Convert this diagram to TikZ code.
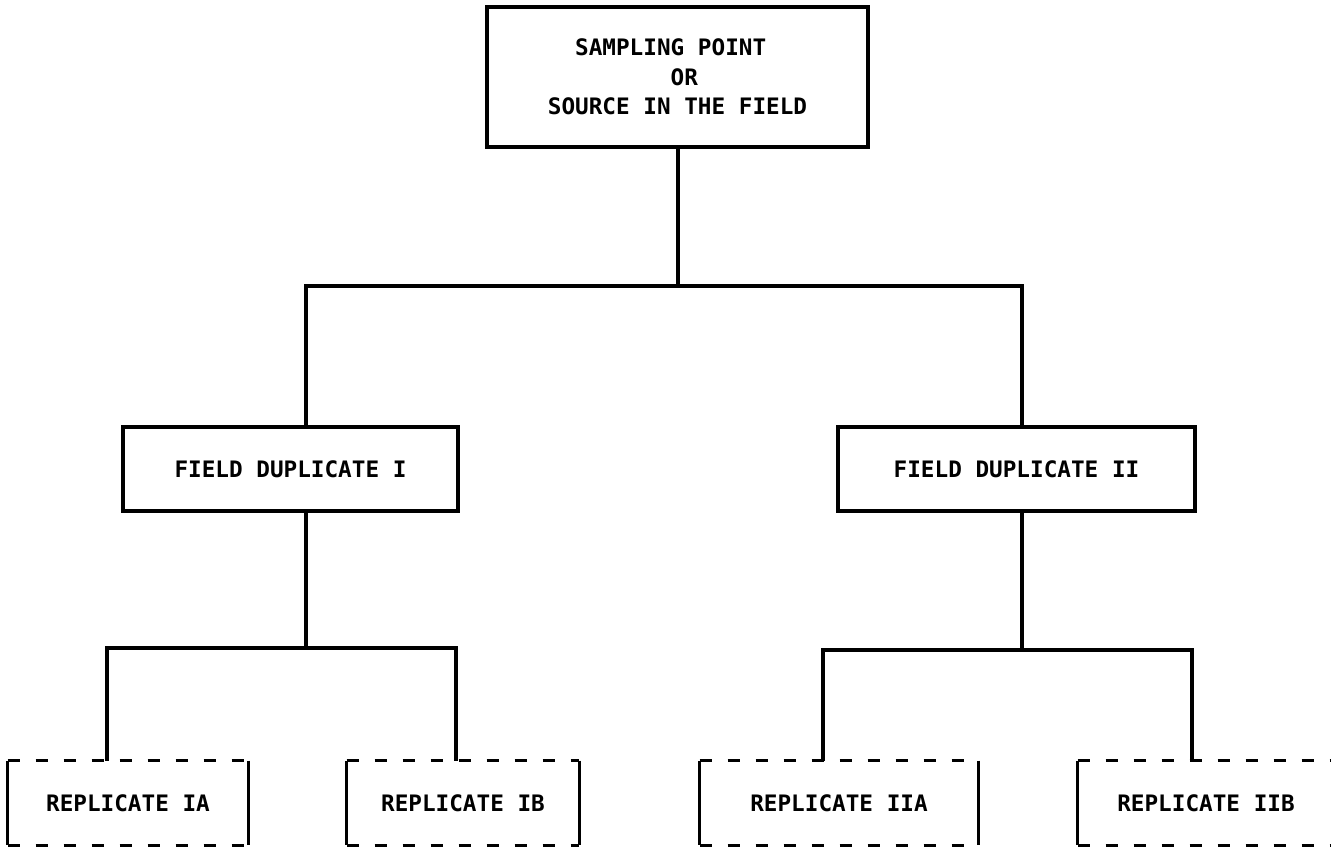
\documentclass[tikz,border=0pt]{standalone}
\usepackage{fontspec}
\newfontfamily\monofnt{DejaVu Sans Mono}
\newdimen\pxu \pxu=0.75pt
\tikzset{
  diag/.style={x=0.75pt, y=-0.75pt},
  txt/.style={font=\monofnt\bfseries\fontsize{17}{22}\selectfont, inner sep=0pt},
  solidbox/.style={txt, draw, line width=2.5pt},
  repbox/.style={txt},
  link/.style={line width=2.5pt},
  rside/.style={line width=2.5pt},
  rdash/.style={line width=2.5pt, dash pattern=on 9pt off 12pt}
}
\begin{document}
\begin{tikzpicture}[diag]
\useasboundingbox (0,0) rectangle (1332,847);
\fill[white] (0,0) rectangle (1332,847);

% boxes
\node[solidbox, minimum width=381\pxu, minimum height=140\pxu, align=left] (top) at (677.5,77)
  {\phantom{SO}SAMPLING POINT\\\phantom{SOURCE IN}OR\\SOURCE IN THE FIELD};
\node[solidbox, minimum width=335\pxu, minimum height=84\pxu] (fd1) at (290.5,469) {FIELD DUPLICATE I};
\node[solidbox, minimum width=357\pxu, minimum height=84\pxu] (fd2) at (1016.5,469) {FIELD DUPLICATE II};

\node[repbox, minimum width=240\pxu, minimum height=84\pxu] (ia) at (128,803) {REPLICATE IA};
\node[repbox, minimum width=232\pxu, minimum height=84\pxu] (ib) at (463,803) {REPLICATE IB};
\node[repbox, minimum width=278\pxu, minimum height=84\pxu] (iia) at (839,803) {REPLICATE IIA};
\node[repbox, minimum width=256\pxu, minimum height=84\pxu] (iib) at (1206,803) {REPLICATE IIB};

% replicate box outlines: solid sides, dashed top and bottom
\foreach \b in {ia,ib,iia}{
  \draw[rside] (\b.north west) -- (\b.south west);
  \draw[rside] (\b.north east) -- (\b.south east);
  \draw[rdash] (\b.north west) -- (\b.north east);
  \draw[rdash] (\b.south west) -- (\b.south east);
}
\coordinate (edge) at (1331,803);
\draw[rside] (iib.north west) -- (iib.south west);
\draw[rdash] (iib.north west) -- (iib.north west -| edge);
\draw[rdash] (iib.south west) -- (iib.south west -| edge);

% connectors, level 1
\coordinate (j0) at (678,286);
\coordinate (c1) at (306,286);
\coordinate (c2) at (1022,286);
\draw[link] (top.south -| j0) -- (j0);
\draw[link] (c1 |- fd1.north) -- (c1) -- (c2) -- (c2 |- fd2.north);

% connectors, level 2 (left)
\coordinate (d1) at (306,648);
\coordinate (d1l) at (107,648);
\coordinate (d1r) at (456,648);
\draw[link] (fd1.south -| d1) -- (d1);
\draw[link] (d1l |- ia.north) -- (d1l) -- (d1r) -- (d1r |- ib.north);

% connectors, level 2 (right)
\coordinate (d2) at (1022,650);
\coordinate (d2l) at (823,650);
\coordinate (d2r) at (1192,650);
\draw[link] (fd2.south -| d2) -- (d2);
\draw[link] (d2l |- iia.north) -- (d2l) -- (d2r) -- (d2r |- iib.north);
\end{tikzpicture}
\end{document}
